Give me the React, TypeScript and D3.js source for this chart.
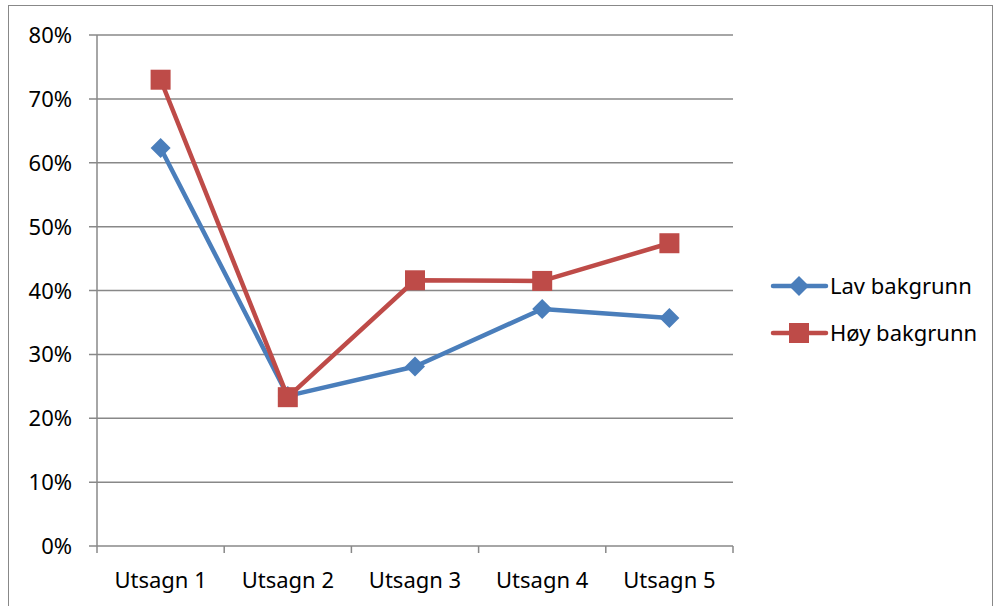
import React, { useEffect, useRef } from 'react'
import * as d3 from 'd3'

const categories = ['Utsagn 1', 'Utsagn 2', 'Utsagn 3', 'Utsagn 4', 'Utsagn 5']
const lavValues = [0.623, 0.235, 0.281, 0.371, 0.357]
const hoyValues = [0.73, 0.233, 0.416, 0.415, 0.474]
const yTicks = [0, 0.1, 0.2, 0.3, 0.4, 0.5, 0.6, 0.7, 0.8]

const series = [
  { name: 'Lav bakgrunn', values: lavValues, color: '#4A7EBB', marker: 'diamond' },
  { name: 'Høy bakgrunn', values: hoyValues, color: '#BE4B48', marker: 'square' }
]

const App = () => {
  const ref = useRef<SVGSVGElement>(null)

  useEffect(() => {
    const svg = d3.select(ref.current)
    svg.selectAll('*').remove()
    const font = '"Noto Sans", sans-serif'
    const fontSize = '22px'

    const left = 97
    const right = 733
    const top = 35
    const bottom = 546

    // outer border
    svg.append('rect')
      .attr('x', 8.5).attr('y', 5.5)
      .attr('width', 984).attr('height', 610)
      .attr('fill', 'white').attr('stroke', '#888').attr('stroke-width', 1)

    const x = d3.scaleBand().domain(categories).range([left, right])
    const y = d3.scaleLinear().domain([0, 0.8]).range([bottom, top])
    const fmt = d3.format('.0%')

    // gridlines + y labels
    const g = svg.append('g')
    g.selectAll('line.grid')
      .data(yTicks)
      .join('line')
      .attr('x1', left - 8).attr('x2', right)
      .attr('y1', d => y(d)).attr('y2', d => y(d))
      .attr('stroke', '#888').attr('stroke-width', 1.5)
    g.selectAll('text.ylab')
      .data(yTicks)
      .join('text')
      .attr('x', 72).attr('y', d => y(d) + 8)
      .attr('text-anchor', 'end')
      .style('font-family', font).style('font-size', fontSize).attr('fill', '#000')
      .text(d => fmt(d))

    // y axis line
    svg.append('line')
      .attr('x1', left).attr('x2', left).attr('y1', top).attr('y2', bottom)
      .attr('stroke', '#888').attr('stroke-width', 1.5)

    // x ticks at category boundaries
    const bounds = categories.map(c => x(c) as number).concat([right])
    svg.selectAll('line.xt')
      .data(bounds)
      .join('line')
      .attr('x1', d => d).attr('x2', d => d)
      .attr('y1', bottom).attr('y2', bottom + 7)
      .attr('stroke', '#888').attr('stroke-width', 1.5)
    svg.selectAll('text.xl')
      .data(categories)
      .join('text')
      .attr('x', d => (x(d) as number) + x.bandwidth() / 2)
      .attr('y', 588)
      .attr('text-anchor', 'middle')
      .style('font-family', font).style('font-size', fontSize).attr('fill', '#000')
      .text(d => d)

    const cx = (i: number) => (x(categories[i]) as number) + x.bandwidth() / 2
    const line = d3.line<number>().x((_, i) => cx(i)).y(d => y(d))

    const drawMarker = (sel: any, type: string, color: string, px: number, py: number) => {
      if (type === 'square') {
        sel.append('rect')
          .attr('x', px - 10).attr('y', py - 10).attr('width', 20).attr('height', 20)
          .attr('fill', color)
      } else {
        sel.append('path')
          .attr('d', `M${px},${py - 10}L${px + 10},${py}L${px},${py + 10}L${px - 10},${py}Z`)
          .attr('fill', color)
      }
    }

    series.forEach(s => {
      const sg = svg.append('g')
      sg.append('path')
        .datum(s.values)
        .attr('d', line)
        .attr('fill', 'none')
        .attr('stroke', s.color)
        .attr('stroke-width', 4.5)
        .attr('stroke-linejoin', 'round')
      s.values.forEach((v, i) => drawMarker(sg, s.marker, s.color, cx(i), y(v)))
    })

    // legend
    series.forEach((s, i) => {
      const ly = 286 + i * 47
      const lg = svg.append('g')
      lg.append('line')
        .attr('x1', 773).attr('x2', 826).attr('y1', ly).attr('y2', ly)
        .attr('stroke', s.color).attr('stroke-width', 4.5).attr('stroke-linecap', 'round')
      drawMarker(lg, s.marker, s.color, 799, ly)
      lg.append('text')
        .attr('x', 830).attr('y', ly + 8)
        .style('font-family', font).style('font-size', fontSize).attr('fill', '#000')
        .text(s.name)
    })
  }, [])

  return (
    <svg ref={ref} width={995} height={606} style={{ position: 'absolute', left: 0, top: 0 }} />
  )
}

export default App
